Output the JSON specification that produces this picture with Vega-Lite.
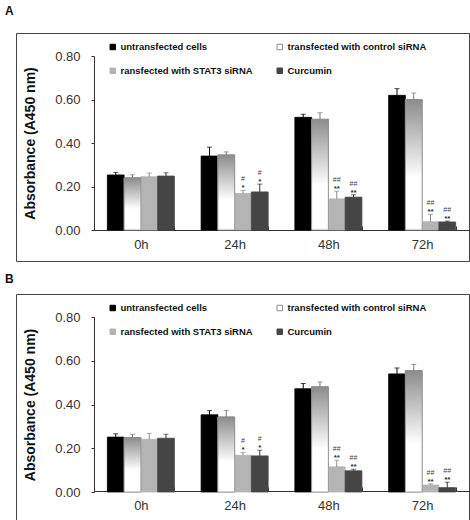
{
  "$schema": "https://vega.github.io/schema/vega-lite/v6.json",
  "padding": {"left": 4, "top": 4, "right": 2, "bottom": 2},
  "background": "white",
  "config": {
    "font": "Liberation Sans",
    "view": {"stroke": "#444", "strokeWidth": 1},
    "concat": {"spacing": 10},
    "axisX": {"labelAngle": 0, "offset": -31, "tickBand": "extent", "tickSize": -4, "tickColor": "#333", "domainColor": "#333", "labelFontSize": 13, "labelColor": "#333", "labelPadding": 12},
    "legend": {"orient": "none", "legendX": 92, "legendY": 9, "columns": 2, "columnPadding": 22, "rowPadding": 13, "labelFontSize": 9.5, "labelFontWeight": "bold", "labelColor": "#111", "symbolType": "square", "symbolSize": 30, "symbolStrokeWidth": 1, "labelOffset": 3, "padding": 0}
  },
  "data": {
    "values": [
      {"panel": "A", "time": "0h", "series": "untransfected cells", "value": 0.253, "top": 0.265, "sig1": "", "sig2": ""},
      {"panel": "A", "time": "0h", "series": "transfected with control siRNA", "value": 0.240, "top": 0.254, "sig1": "", "sig2": ""},
      {"panel": "A", "time": "0h", "series": "ransfected with STAT3 siRNA", "value": 0.245, "top": 0.262, "sig1": "", "sig2": ""},
      {"panel": "A", "time": "0h", "series": "Curcumin", "value": 0.248, "top": 0.263, "sig1": "", "sig2": ""},
      {"panel": "A", "time": "24h", "series": "untransfected cells", "value": 0.340, "top": 0.381, "sig1": "", "sig2": ""},
      {"panel": "A", "time": "24h", "series": "transfected with control siRNA", "value": 0.345, "top": 0.359, "sig1": "", "sig2": ""},
      {"panel": "A", "time": "24h", "series": "ransfected with STAT3 siRNA", "value": 0.168, "top": 0.182, "sig1": "#", "sig2": "*"},
      {"panel": "A", "time": "24h", "series": "Curcumin", "value": 0.175, "top": 0.211, "sig1": "#", "sig2": "*"},
      {"panel": "A", "time": "48h", "series": "untransfected cells", "value": 0.518, "top": 0.532, "sig1": "", "sig2": ""},
      {"panel": "A", "time": "48h", "series": "transfected with control siRNA", "value": 0.509, "top": 0.539, "sig1": "", "sig2": ""},
      {"panel": "A", "time": "48h", "series": "ransfected with STAT3 siRNA", "value": 0.143, "top": 0.178, "sig1": "##", "sig2": "**"},
      {"panel": "A", "time": "48h", "series": "Curcumin", "value": 0.151, "top": 0.162, "sig1": "##", "sig2": "**"},
      {"panel": "A", "time": "72h", "series": "untransfected cells", "value": 0.619, "top": 0.650, "sig1": "", "sig2": ""},
      {"panel": "A", "time": "72h", "series": "transfected with control siRNA", "value": 0.600, "top": 0.630, "sig1": "", "sig2": ""},
      {"panel": "A", "time": "72h", "series": "ransfected with STAT3 siRNA", "value": 0.038, "top": 0.072, "sig1": "##", "sig2": "**"},
      {"panel": "A", "time": "72h", "series": "Curcumin", "value": 0.037, "top": 0.041, "sig1": "##", "sig2": "**"},
      {"panel": "B", "time": "0h", "series": "untransfected cells", "value": 0.251, "top": 0.266, "sig1": "", "sig2": ""},
      {"panel": "B", "time": "0h", "series": "transfected with control siRNA", "value": 0.249, "top": 0.264, "sig1": "", "sig2": ""},
      {"panel": "B", "time": "0h", "series": "ransfected with STAT3 siRNA", "value": 0.241, "top": 0.268, "sig1": "", "sig2": ""},
      {"panel": "B", "time": "0h", "series": "Curcumin", "value": 0.246, "top": 0.264, "sig1": "", "sig2": ""},
      {"panel": "B", "time": "24h", "series": "untransfected cells", "value": 0.353, "top": 0.372, "sig1": "", "sig2": ""},
      {"panel": "B", "time": "24h", "series": "transfected with control siRNA", "value": 0.343, "top": 0.373, "sig1": "", "sig2": ""},
      {"panel": "B", "time": "24h", "series": "ransfected with STAT3 siRNA", "value": 0.168, "top": 0.181, "sig1": "#", "sig2": "*"},
      {"panel": "B", "time": "24h", "series": "Curcumin", "value": 0.165, "top": 0.191, "sig1": "#", "sig2": "*"},
      {"panel": "B", "time": "48h", "series": "untransfected cells", "value": 0.472, "top": 0.496, "sig1": "", "sig2": ""},
      {"panel": "B", "time": "48h", "series": "transfected with control siRNA", "value": 0.481, "top": 0.503, "sig1": "", "sig2": ""},
      {"panel": "B", "time": "48h", "series": "ransfected with STAT3 siRNA", "value": 0.115, "top": 0.145, "sig1": "##", "sig2": "**"},
      {"panel": "B", "time": "48h", "series": "Curcumin", "value": 0.097, "top": 0.104, "sig1": "##", "sig2": "**"},
      {"panel": "B", "time": "72h", "series": "untransfected cells", "value": 0.540, "top": 0.567, "sig1": "", "sig2": ""},
      {"panel": "B", "time": "72h", "series": "transfected with control siRNA", "value": 0.555, "top": 0.583, "sig1": "", "sig2": ""},
      {"panel": "B", "time": "72h", "series": "ransfected with STAT3 siRNA", "value": 0.032, "top": 0.037, "sig1": "##", "sig2": "**"},
      {"panel": "B", "time": "72h", "series": "Curcumin", "value": 0.020, "top": 0.045, "sig1": "##", "sig2": "**"}
    ]
  },
  "vconcat": [
    {
      "title": {"text": "A", "anchor": "start", "dx": -11, "fontSize": 12, "fontWeight": "bold", "offset": 15, "color": "#111"},
      "width": 453,
      "height": 228,
      "transform": [{"filter": "datum.panel === 'A'"}],
      "encoding": {
        "x": {"field": "time", "type": "nominal", "sort": ["0h", "24h", "48h", "72h"], "title": null,
          "scale": {"range": [78, 453], "paddingInner": 0.285, "paddingOuter": 0.1425}},
        "xOffset": {"field": "series", "type": "nominal",
          "sort": ["untransfected cells", "transfected with control siRNA", "ransfected with STAT3 siRNA", "Curcumin"],
          "scale": {"paddingInner": 0, "paddingOuter": 0}},
        "y": {"field": "value", "type": "quantitative", "title": "Absorbance (A450 nm)",
          "scale": {"domain": [0, 0.8], "range": [197, 23], "nice": false},
          "axis": {"values": [0, 0.2, 0.4, 0.6, 0.8], "format": ".2f", "offset": -78, "grid": false, "tickSize": 3, "tickColor": "#333", "domainColor": "#333", "labelFontSize": 13, "labelColor": "#333", "labelPadding": 11, "titleFontSize": 14, "titleFontWeight": "bold", "titleColor": "#111", "titlePadding": 17}}
      },
      "layer": [
        {
          "mark": {"type": "bar", "strokeWidth": 0.8},
          "encoding": {
            "fill": {"field": "series", "type": "nominal", "title": null,
              "scale": {"domain": ["untransfected cells", "ransfected with STAT3 siRNA", "transfected with control siRNA", "Curcumin"], "range": ["#000000", "#b4b4b4", "#ffffff", "#454545"]}},
            "stroke": {"field": "series", "type": "nominal", "title": null,
              "scale": {"domain": ["untransfected cells", "ransfected with STAT3 siRNA", "transfected with control siRNA", "Curcumin"], "range": ["#000000", "#b4b4b4", "#8c8c8c", "#454545"]}}
          }
        },
        {
          "transform": [{"filter": "datum.series === 'transfected with control siRNA'"}],
          "mark": {"type": "bar", "stroke": "#8c8c8c", "strokeWidth": 0.8,
            "fill": {"gradient": "linear", "x1": 0, "y1": 0, "x2": 0, "y2": 1,
              "stops": [{"offset": 0, "color": "#8c8c8c"}, {"offset": 0.6, "color": "#ffffff"}, {"offset": 1, "color": "#ffffff"}]}}
        },
        {
          "mark": {"type": "rule", "strokeWidth": 1},
          "encoding": {
            "y2": {"field": "top"},
            "color": {"field": "series", "type": "nominal", "legend": null,
              "scale": {"domain": ["untransfected cells", "transfected with control siRNA", "ransfected with STAT3 siRNA", "Curcumin"], "range": ["#000000", "#777777", "#8c8c8c", "#333333"]}}
          }
        },
        {
          "mark": {"type": "tick", "orient": "horizontal", "size": 5, "thickness": 1},
          "encoding": {
            "y": {"field": "top", "type": "quantitative", "title": "Absorbance (A450 nm)",
              "scale": {"domain": [0, 0.8], "range": [197, 23], "nice": false},
              "axis": {"values": [0, 0.2, 0.4, 0.6, 0.8], "format": ".2f", "offset": -78, "grid": false, "tickSize": 3, "tickColor": "#333", "domainColor": "#333", "labelFontSize": 13, "labelColor": "#333", "labelPadding": 11, "titleFontSize": 14, "titleFontWeight": "bold", "titleColor": "#111", "titlePadding": 17}},
            "color": {"field": "series", "type": "nominal", "legend": null,
              "scale": {"domain": ["untransfected cells", "transfected with control siRNA", "ransfected with STAT3 siRNA", "Curcumin"], "range": ["#000000", "#777777", "#8c8c8c", "#333333"]}}
          }
        },
        {
          "mark": {"type": "text", "fontSize": 8, "fontWeight": "bold", "fill": "#333333", "baseline": "alphabetic", "dy": 0},
          "encoding": {
            "y": {"field": "top", "type": "quantitative", "title": "Absorbance (A450 nm)",
              "scale": {"domain": [0, 0.8], "range": [197, 23], "nice": false},
              "axis": {"values": [0, 0.2, 0.4, 0.6, 0.8], "format": ".2f", "offset": -78, "grid": false, "tickSize": 3, "tickColor": "#333", "domainColor": "#333", "labelFontSize": 13, "labelColor": "#333", "labelPadding": 11, "titleFontSize": 14, "titleFontWeight": "bold", "titleColor": "#111", "titlePadding": 17}},
            "text": {"field": "sig2"}}
        },
        {
          "mark": {"type": "text", "fontSize": 7, "fill": "#444444", "baseline": "alphabetic", "dy": -9},
          "encoding": {
            "y": {"field": "top", "type": "quantitative", "title": "Absorbance (A450 nm)",
              "scale": {"domain": [0, 0.8], "range": [197, 23], "nice": false},
              "axis": {"values": [0, 0.2, 0.4, 0.6, 0.8], "format": ".2f", "offset": -78, "grid": false, "tickSize": 3, "tickColor": "#333", "domainColor": "#333", "labelFontSize": 13, "labelColor": "#333", "labelPadding": 11, "titleFontSize": 14, "titleFontWeight": "bold", "titleColor": "#111", "titlePadding": 17}},
            "text": {"field": "sig1"}}
        }
      ]
    },
    {
      "title": {"text": "B", "anchor": "start", "dx": -11, "fontSize": 12, "fontWeight": "bold", "offset": 8, "color": "#111"},
      "width": 453,
      "height": 228,
      "transform": [{"filter": "datum.panel === 'B'"}],
      "encoding": {
        "x": {"field": "time", "type": "nominal", "sort": ["0h", "24h", "48h", "72h"], "title": null,
          "scale": {"range": [78, 453], "paddingInner": 0.285, "paddingOuter": 0.1425}},
        "xOffset": {"field": "series", "type": "nominal",
          "sort": ["untransfected cells", "transfected with control siRNA", "ransfected with STAT3 siRNA", "Curcumin"],
          "scale": {"paddingInner": 0, "paddingOuter": 0}},
        "y": {"field": "value", "type": "quantitative", "title": "Absorbance (A450 nm)",
          "scale": {"domain": [0, 0.8], "range": [198, 23], "nice": false},
          "axis": {"values": [0, 0.2, 0.4, 0.6, 0.8], "format": ".2f", "offset": -78, "grid": false, "tickSize": 3, "tickColor": "#333", "domainColor": "#333", "labelFontSize": 13, "labelColor": "#333", "labelPadding": 11, "titleFontSize": 14, "titleFontWeight": "bold", "titleColor": "#111", "titlePadding": 17}}
      },
      "layer": [
        {
          "mark": {"type": "bar", "strokeWidth": 0.8},
          "encoding": {
            "fill": {"field": "series", "type": "nominal", "title": null,
              "scale": {"domain": ["untransfected cells", "ransfected with STAT3 siRNA", "transfected with control siRNA", "Curcumin"], "range": ["#000000", "#b4b4b4", "#ffffff", "#454545"]}},
            "stroke": {"field": "series", "type": "nominal", "title": null,
              "scale": {"domain": ["untransfected cells", "ransfected with STAT3 siRNA", "transfected with control siRNA", "Curcumin"], "range": ["#000000", "#b4b4b4", "#8c8c8c", "#454545"]}}
          }
        },
        {
          "transform": [{"filter": "datum.series === 'transfected with control siRNA'"}],
          "mark": {"type": "bar", "stroke": "#8c8c8c", "strokeWidth": 0.8,
            "fill": {"gradient": "linear", "x1": 0, "y1": 0, "x2": 0, "y2": 1,
              "stops": [{"offset": 0, "color": "#8c8c8c"}, {"offset": 0.6, "color": "#ffffff"}, {"offset": 1, "color": "#ffffff"}]}}
        },
        {
          "mark": {"type": "rule", "strokeWidth": 1},
          "encoding": {
            "y2": {"field": "top"},
            "color": {"field": "series", "type": "nominal", "legend": null,
              "scale": {"domain": ["untransfected cells", "transfected with control siRNA", "ransfected with STAT3 siRNA", "Curcumin"], "range": ["#000000", "#777777", "#8c8c8c", "#333333"]}}
          }
        },
        {
          "mark": {"type": "tick", "orient": "horizontal", "size": 5, "thickness": 1},
          "encoding": {
            "y": {"field": "top", "type": "quantitative", "title": "Absorbance (A450 nm)",
              "scale": {"domain": [0, 0.8], "range": [198, 23], "nice": false},
              "axis": {"values": [0, 0.2, 0.4, 0.6, 0.8], "format": ".2f", "offset": -78, "grid": false, "tickSize": 3, "tickColor": "#333", "domainColor": "#333", "labelFontSize": 13, "labelColor": "#333", "labelPadding": 11, "titleFontSize": 14, "titleFontWeight": "bold", "titleColor": "#111", "titlePadding": 17}},
            "color": {"field": "series", "type": "nominal", "legend": null,
              "scale": {"domain": ["untransfected cells", "transfected with control siRNA", "ransfected with STAT3 siRNA", "Curcumin"], "range": ["#000000", "#777777", "#8c8c8c", "#333333"]}}
          }
        },
        {
          "mark": {"type": "text", "fontSize": 8, "fontWeight": "bold", "fill": "#333333", "baseline": "alphabetic", "dy": 0},
          "encoding": {
            "y": {"field": "top", "type": "quantitative", "title": "Absorbance (A450 nm)",
              "scale": {"domain": [0, 0.8], "range": [198, 23], "nice": false},
              "axis": {"values": [0, 0.2, 0.4, 0.6, 0.8], "format": ".2f", "offset": -78, "grid": false, "tickSize": 3, "tickColor": "#333", "domainColor": "#333", "labelFontSize": 13, "labelColor": "#333", "labelPadding": 11, "titleFontSize": 14, "titleFontWeight": "bold", "titleColor": "#111", "titlePadding": 17}},
            "text": {"field": "sig2"}}
        },
        {
          "mark": {"type": "text", "fontSize": 7, "fill": "#444444", "baseline": "alphabetic", "dy": -9},
          "encoding": {
            "y": {"field": "top", "type": "quantitative", "title": "Absorbance (A450 nm)",
              "scale": {"domain": [0, 0.8], "range": [198, 23], "nice": false},
              "axis": {"values": [0, 0.2, 0.4, 0.6, 0.8], "format": ".2f", "offset": -78, "grid": false, "tickSize": 3, "tickColor": "#333", "domainColor": "#333", "labelFontSize": 13, "labelColor": "#333", "labelPadding": 11, "titleFontSize": 14, "titleFontWeight": "bold", "titleColor": "#111", "titlePadding": 17}},
            "text": {"field": "sig1"}}
        }
      ]
    }
  ],
  "resolve": {
    "scale": {"fill": "independent", "stroke": "independent", "color": "independent"},
    "legend": {"fill": "independent", "stroke": "independent", "color": "independent"}
  }
}
